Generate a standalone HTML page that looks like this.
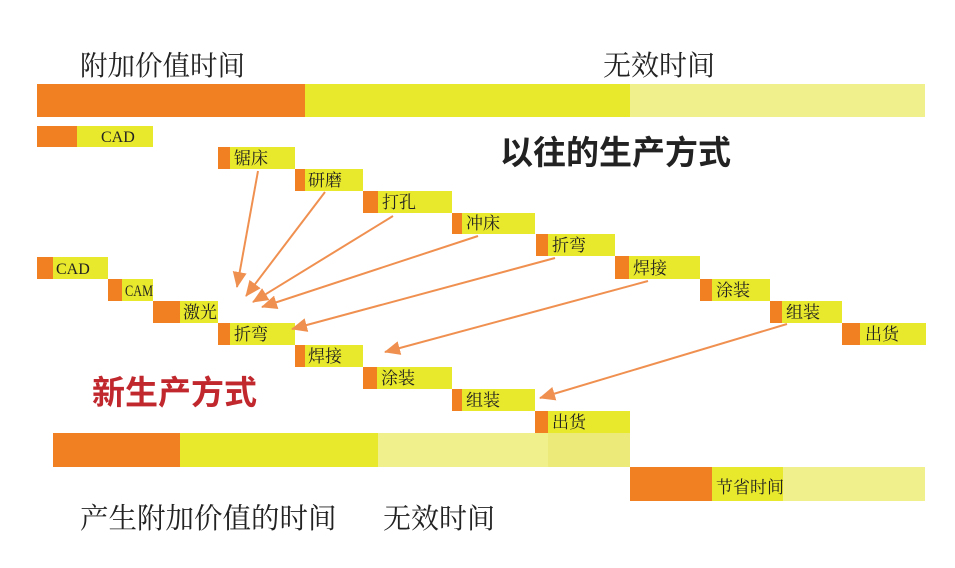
<!DOCTYPE html>
<html><head><meta charset="utf-8"><style>
html,body{margin:0;padding:0;background:#fff;}
svg text{font-family:"Liberation Serif","Noto Serif CJK SC",serif;}
</style></head><body>
<svg width="955" height="563" viewBox="0 0 955 563" xmlns="http://www.w3.org/2000/svg">
<defs>
<marker id="b" markerWidth="16" markerHeight="14" refX="15" refY="7" orient="auto" markerUnits="userSpaceOnUse" viewBox="0 0 16 14"><path d="M0,0 L16,7 L0,14 z" fill="#f09050"/></marker></defs>
<g fill="#222">
<text x="80" y="75" font-size="27.5">附加价值时间</text>
<text x="603" y="75" font-size="28">无效时间</text>
<text x="80" y="528" font-size="28.5">产生附加价值的时间</text>
<text x="383" y="528" font-size="28">无效时间</text>
</g>
<text x="500" y="164" font-size="33" font-weight="bold" fill="#222" style="font-family:'Liberation Sans','Noto Sans CJK SC',sans-serif">以往的生产方式</text>
<text x="92" y="404" font-size="33" font-weight="bold" fill="#c0282e" style="font-family:'Liberation Sans','Noto Sans CJK SC',sans-serif">新生产方式</text>
<rect x="37" y="84" width="268" height="33" fill="#f08022"/>
<rect x="305" y="84" width="325" height="33" fill="#e8e82c"/>
<rect x="630" y="84" width="295" height="33" fill="#f0f08c"/>
<rect x="53" y="433" width="127" height="34" fill="#f08022"/>
<rect x="180" y="433" width="198" height="34" fill="#e8e82c"/>
<rect x="378" y="433" width="170" height="34" fill="#f0f08c"/>
<rect x="548" y="433" width="82" height="34" fill="#ecea78"/>
<rect x="630" y="467" width="82" height="34" fill="#f08022"/>
<rect x="712" y="467" width="71" height="34" fill="#e8e82c"/>
<rect x="783" y="467" width="142" height="34" fill="#f0f08c"/>
<g font-size="17" fill="#222">
<text x="716" y="493">节省时间</text>
</g>
<g font-size="17" fill="#222">
<rect x="37" y="126" width="116" height="21" fill="#e8e82c"/><rect x="37" y="126" width="40" height="21" fill="#f08022"/><text x="101" y="142" font-size="16">CAD</text>

<rect x="218" y="147" width="77" height="22" fill="#e8e82c"/><rect x="218" y="147" width="12" height="22" fill="#f08022"/><text x="234" y="164">锯床</text>
<rect x="295" y="169" width="68" height="22" fill="#e8e82c"/><rect x="295" y="169" width="10" height="22" fill="#f08022"/><text x="308" y="186">研磨</text>
<rect x="363" y="191" width="89" height="22" fill="#e8e82c"/><rect x="363" y="191" width="15" height="22" fill="#f08022"/><text x="382" y="208">打孔</text>
<rect x="452" y="213" width="83" height="21" fill="#e8e82c"/><rect x="452" y="213" width="10" height="21" fill="#f08022"/><text x="466" y="229">冲床</text>
<rect x="536" y="234" width="79" height="22" fill="#e8e82c"/><rect x="536" y="234" width="12" height="22" fill="#f08022"/><text x="552" y="251">折弯</text>
<rect x="615" y="256" width="85" height="23" fill="#e8e82c"/><rect x="615" y="256" width="14" height="23" fill="#f08022"/><text x="633" y="274">焊接</text>
<rect x="700" y="279" width="70" height="22" fill="#e8e82c"/><rect x="700" y="279" width="12" height="22" fill="#f08022"/><text x="716" y="296">涂装</text>
<rect x="770" y="301" width="72" height="22" fill="#e8e82c"/><rect x="770" y="301" width="12" height="22" fill="#f08022"/><text x="786" y="318">组装</text>
<rect x="842" y="323" width="84" height="22" fill="#e8e82c"/><rect x="842" y="323" width="18" height="22" fill="#f08022"/><text x="865" y="340">出货</text>

<rect x="37" y="257" width="71" height="22" fill="#e8e82c"/><rect x="37" y="257" width="16" height="22" fill="#f08022"/><text x="56" y="274" font-size="16">CAD</text>
<rect x="108" y="279" width="45" height="22" fill="#e8e82c"/><rect x="108" y="279" width="14" height="22" fill="#f08022"/><text x="125" y="296" font-size="16" textLength="28" lengthAdjust="spacingAndGlyphs">CAM</text>
<rect x="153" y="301" width="65" height="22" fill="#e8e82c"/><rect x="153" y="301" width="27" height="22" fill="#f08022"/><text x="183" y="318">激光</text>
<rect x="218" y="323" width="77" height="22" fill="#e8e82c"/><rect x="218" y="323" width="12" height="22" fill="#f08022"/><text x="234" y="340">折弯</text>
<rect x="295" y="345" width="68" height="22" fill="#e8e82c"/><rect x="295" y="345" width="10" height="22" fill="#f08022"/><text x="308" y="362">焊接</text>
<rect x="363" y="367" width="89" height="22" fill="#e8e82c"/><rect x="363" y="367" width="14" height="22" fill="#f08022"/><text x="381" y="384">涂装</text>
<rect x="452" y="389" width="83" height="22" fill="#e8e82c"/><rect x="452" y="389" width="10" height="22" fill="#f08022"/><text x="466" y="406">组装</text>
<rect x="535" y="411" width="95" height="22" fill="#e8e82c"/><rect x="535" y="411" width="13" height="22" fill="#f08022"/><text x="552" y="428">出货</text>
</g>
<g stroke="#f09050" stroke-width="2" fill="none">
<line x1="258" y1="171" x2="237" y2="287" marker-end="url(#b)"/>
<line x1="325" y1="192" x2="246" y2="296" marker-end="url(#b)"/>
<line x1="393" y1="216" x2="253" y2="302" marker-end="url(#b)"/>
<line x1="478" y1="236" x2="262" y2="307" marker-end="url(#b)"/>
<line x1="555" y1="258" x2="292" y2="329" marker-end="url(#b)"/>
<line x1="648" y1="281" x2="385" y2="352" marker-end="url(#b)"/>
<line x1="787" y1="324" x2="540" y2="398" marker-end="url(#b)"/>
</g>
</svg>
</body></html>
